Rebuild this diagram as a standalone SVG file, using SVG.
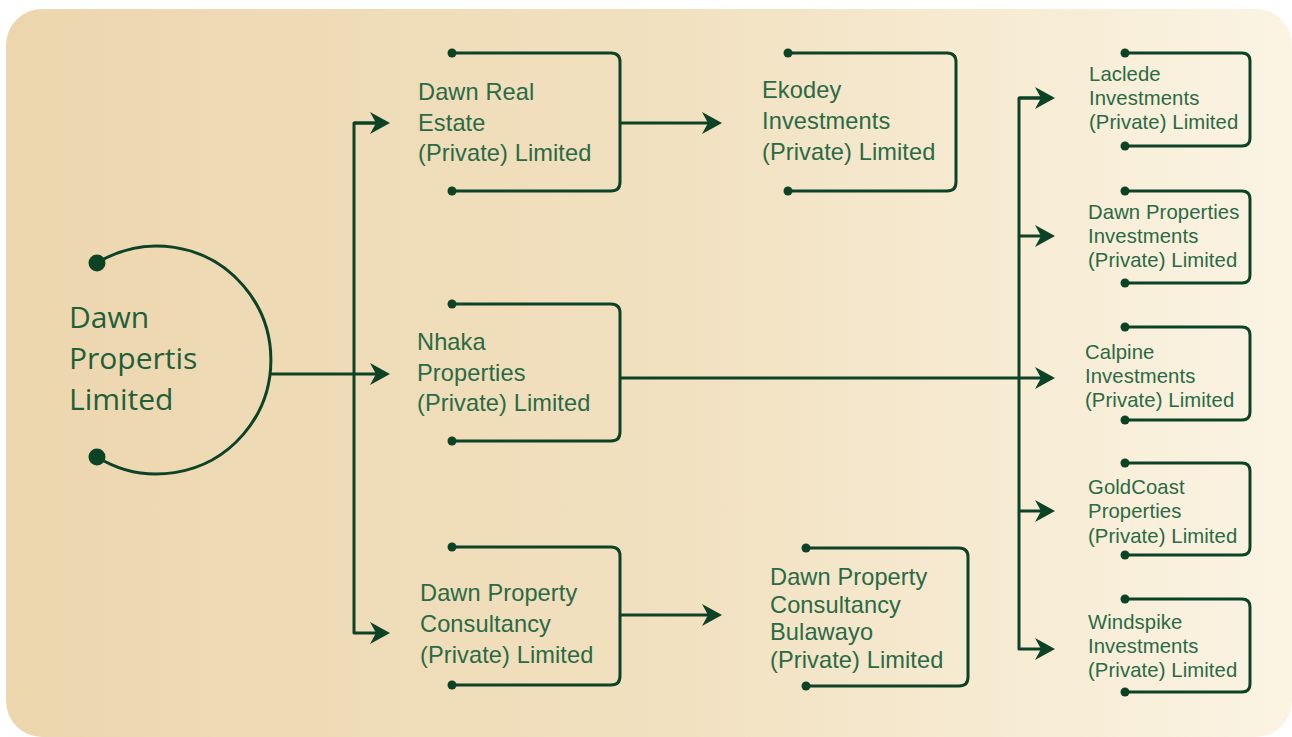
<svg xmlns="http://www.w3.org/2000/svg" width="1292" height="737" viewBox="0 0 1292 737">
<defs>
<linearGradient id="bg" x1="0" y1="0" x2="1" y2="0">
<stop offset="0" stop-color="#ECD6AE"/>
<stop offset="0.5" stop-color="#F1E0BF"/>
<stop offset="1" stop-color="#FBF4E3"/>
</linearGradient>
<marker id="arr" markerUnits="userSpaceOnUse" markerWidth="22" markerHeight="24" refX="16" refY="11" orient="auto" viewBox="0 0 22 22">
<path d="M0,0 L20,11 L0,22 L6,11 Z" fill="#0C4326"/>
</marker>
</defs>
<style>
.ln{fill:none;stroke:#0C4326;stroke-width:3;stroke-linejoin:round}
.dot{fill:#0C4326}
.t{font-family:"Liberation Sans",Arial,sans-serif;fill:#2A6A45;font-size:23.6px;letter-spacing:0.1px}
.ts{font-family:"Liberation Sans",Arial,sans-serif;fill:#2A6A45;font-size:20.3px;letter-spacing:0.1px}
.tm{font-family:"Open Sans","Noto Sans",sans-serif;fill:#1F5F39;font-size:30px}
</style>
<rect x="6" y="9" width="1286" height="728" rx="36" fill="url(#bg)"/>

<g id="connectors">
<path class="ln" d="M270,374 H386" marker-end="url(#arr)"/>
<path class="ln" d="M386,123 H354 V633 H386" marker-end="url(#arr)"/>
<path class="ln" d="M354,123 H386" marker-end="url(#arr)"/>
<path class="ln" d="M620,123 H718" marker-end="url(#arr)"/>
<path class="ln" d="M620,615 H718" marker-end="url(#arr)"/>
<path class="ln" d="M620,378 H1051" marker-end="url(#arr)"/>
<path class="ln" d="M1051,98 H1019 V649 H1051" marker-end="url(#arr)"/>
<path class="ln" d="M1019,98 H1051" marker-end="url(#arr)"/>
<path class="ln" d="M1019,236 H1051" marker-end="url(#arr)"/>
<path class="ln" d="M1019,511 H1051" marker-end="url(#arr)"/>
</g>

<g id="dawn-propertis-limited">
<path class="ln" d="M97,263 A114,114 0 1 1 97,457"/>
<circle class="dot" cx="97" cy="263" r="8.5"/>
<circle class="dot" cx="97" cy="457" r="8.5"/>
<text class="tm" x="69"><tspan x="69" y="328">Dawn</tspan><tspan x="69" y="369">Propertis</tspan><tspan x="69" y="410">Limited</tspan></text>
</g>

<g id="dawn-real-estate">
<path class="ln" d="M452,53 H611 Q620,53 620,62 V182 Q620,191 611,191 H452"/>
<circle class="dot" cx="452" cy="53" r="4.5"/>
<circle class="dot" cx="452" cy="191" r="4.5"/>
<text class="t"><tspan x="418" y="100">Dawn Real</tspan><tspan x="418" y="131">Estate</tspan><tspan x="418" y="161">(Private) Limited</tspan></text>
</g>

<g id="ekodey-investments">
<path class="ln" d="M788,53 H947 Q956,53 956,62 V182 Q956,191 947,191 H788"/>
<circle class="dot" cx="788" cy="53" r="4.5"/>
<circle class="dot" cx="788" cy="191" r="4.5"/>
<text class="t"><tspan x="762" y="98">Ekodey</tspan><tspan x="762" y="129">Investments</tspan><tspan x="762" y="160">(Private) Limited</tspan></text>
</g>

<g id="nhaka-properties">
<path class="ln" d="M452,304 H611 Q620,304 620,313 V432 Q620,441 611,441 H452"/>
<circle class="dot" cx="452" cy="304" r="4.5"/>
<circle class="dot" cx="452" cy="441" r="4.5"/>
<text class="t"><tspan x="417" y="350">Nhaka</tspan><tspan x="417" y="381">Properties</tspan><tspan x="417" y="411">(Private) Limited</tspan></text>
</g>

<g id="dawn-property-consultancy">
<path class="ln" d="M452,547 H611 Q620,547 620,556 V676 Q620,685 611,685 H452"/>
<circle class="dot" cx="452" cy="547" r="4.5"/>
<circle class="dot" cx="452" cy="685" r="4.5"/>
<text class="t"><tspan x="420" y="601">Dawn Property</tspan><tspan x="420" y="632">Consultancy</tspan><tspan x="420" y="663">(Private) Limited</tspan></text>
</g>

<g id="dawn-property-consultancy-bulawayo">
<path class="ln" d="M806,548 H959 Q968,548 968,557 V677 Q968,686 959,686 H806"/>
<circle class="dot" cx="806" cy="548" r="4.5"/>
<circle class="dot" cx="806" cy="686" r="4.5"/>
<text class="t"><tspan x="770" y="585">Dawn Property</tspan><tspan x="770" y="613">Consultancy</tspan><tspan x="770" y="640">Bulawayo</tspan><tspan x="770" y="668">(Private) Limited</tspan></text>
</g>

<g id="laclede-investments">
<path class="ln" d="M1125,53 H1242 Q1250,53 1250,61 V138 Q1250,146 1242,146 H1125"/>
<circle class="dot" cx="1125" cy="53" r="4.5"/>
<circle class="dot" cx="1125" cy="146" r="4.5"/>
<text class="ts"><tspan x="1089" y="81">Laclede</tspan><tspan x="1089" y="105">Investments</tspan><tspan x="1089" y="129">(Private) Limited</tspan></text>
</g>

<g id="dawn-properties-investments">
<path class="ln" d="M1125,191 H1242 Q1250,191 1250,199 V275 Q1250,283 1242,283 H1125"/>
<circle class="dot" cx="1125" cy="191" r="4.5"/>
<circle class="dot" cx="1125" cy="283" r="4.5"/>
<text class="ts"><tspan x="1088" y="219">Dawn Properties</tspan><tspan x="1088" y="243">Investments</tspan><tspan x="1088" y="267">(Private) Limited</tspan></text>
</g>

<g id="calpine-investments">
<path class="ln" d="M1125,327 H1242 Q1250,327 1250,335 V412 Q1250,420 1242,420 H1125"/>
<circle class="dot" cx="1125" cy="327" r="4.5"/>
<circle class="dot" cx="1125" cy="420" r="4.5"/>
<text class="ts"><tspan x="1085" y="359">Calpine</tspan><tspan x="1085" y="383">Investments</tspan><tspan x="1085" y="407">(Private) Limited</tspan></text>
</g>

<g id="goldcoast-properties">
<path class="ln" d="M1125,463 H1242 Q1250,463 1250,471 V547 Q1250,555 1242,555 H1125"/>
<circle class="dot" cx="1125" cy="463" r="4.5"/>
<circle class="dot" cx="1125" cy="555" r="4.5"/>
<text class="ts"><tspan x="1088" y="494">GoldCoast</tspan><tspan x="1088" y="518">Properties</tspan><tspan x="1088" y="543">(Private) Limited</tspan></text>
</g>

<g id="windspike-investments">
<path class="ln" d="M1125,599 H1242 Q1250,599 1250,607 V684 Q1250,692 1242,692 H1125"/>
<circle class="dot" cx="1125" cy="599" r="4.5"/>
<circle class="dot" cx="1125" cy="692" r="4.5"/>
<text class="ts"><tspan x="1088" y="629">Windspike</tspan><tspan x="1088" y="653">Investments</tspan><tspan x="1088" y="677">(Private) Limited</tspan></text>
</g>
</svg>
